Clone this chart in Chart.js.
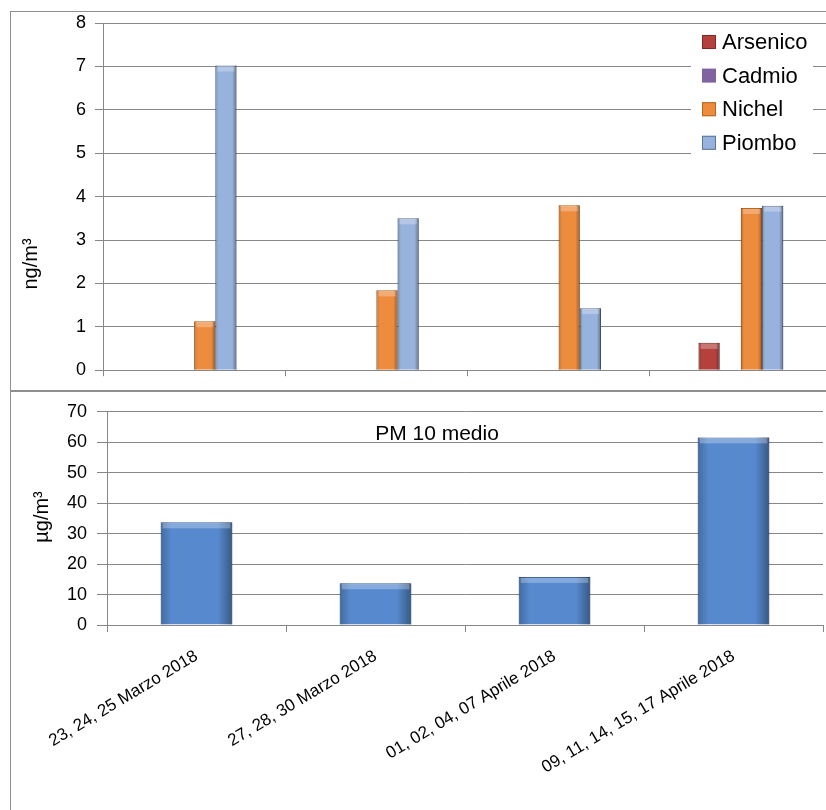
<!DOCTYPE html>
<html><head><meta charset="utf-8">
<script src="https://cdn.jsdelivr.net/npm/chart.js@4.4.1/dist/chart.umd.min.js"></script>
<style>
html,body{margin:0;padding:0;background:#fff;}
body{width:826px;height:810px;overflow:hidden;position:relative;}
#c1{position:absolute;left:0;top:0;}
#c2{position:absolute;left:0;top:391px;}
.frame{position:absolute;border:1px solid #8f8f8f;box-sizing:border-box;pointer-events:none;}
</style></head><body>
<canvas id="c1" width="840" height="390"></canvas>
<canvas id="c2" width="840" height="419"></canvas>
<div class="frame" style="left:10px;top:11px;width:830px;height:380px;"></div>
<div class="frame" style="left:10px;top:391px;width:830px;height:430px;"></div>
<script>
// ---- data ----
const categories = ["23, 24, 25 Marzo 2018", "27, 28, 30 Marzo 2018", "01, 02, 04, 07 Aprile 2018", "09, 11, 14, 15, 17 Aprile 2018"];
const seriesNames = ["Arsenico", "Cadmio", "Nichel", "Piombo"];
const arsenico = [0, 0, 0, 0.63];
const cadmio = [0, 0, 0, 0];
const nichel = [1.13, 1.84, 3.8, 3.74];
const piombo = [7.02, 3.5, 1.43, 3.79];
const pm10Label = "PM 10 medio";
const pm10 = [33.7, 13.7, 15.8, 61.6];
const metalsAxisTitle = "ng/m³";
const pmAxisTitle = "µg/m³";

Chart.defaults.font.family = "'Liberation Sans', Arial, sans-serif";
Chart.defaults.color = '#000';
const GRID = '#878787';

const freeText = {
  id: 'freeText',
  afterDraw(chart, args, opts) {
    const ctx = chart.ctx;
    (opts.items || []).forEach(it => {
      ctx.save();
      ctx.translate(it.x, it.y);
      ctx.rotate(it.rot || 0);
      ctx.font = it.font;
      ctx.textAlign = 'center';
      ctx.textBaseline = it.baseline || 'middle';
      ctx.fillStyle = '#000';
      ctx.fillText(it.text, 0, 0);
      ctx.restore();
    });
  }
};

// soft bevel shading on top of each bar drawn by the library
const bevel = {
  id: 'bevel',
  afterDatasetsDraw(chart) {
    const ctx = chart.ctx;
    chart.data.datasets.forEach((ds, di) => {
      const meta = chart.getDatasetMeta(di);
      meta.data.forEach(el => {
        const { x, y, base, width } = el.getProps(['x', 'y', 'base', 'width'], true);
        const h = base - y;
        if (!(h > 1)) return;
        const l = x - width / 2;
        ctx.save();
        const g = ctx.createLinearGradient(l, 0, l + width, 0);
        g.addColorStop(0, 'rgba(0,0,0,0.22)');
        g.addColorStop(0.15, 'rgba(0,0,0,0)');
        g.addColorStop(0.8, 'rgba(0,0,0,0)');
        g.addColorStop(1, 'rgba(0,0,0,0.35)');
        ctx.fillStyle = g;
        ctx.fillRect(l, y, width, h);
        ctx.fillStyle = 'rgba(255,255,255,0.28)';
        ctx.fillRect(l + 2, y + 1, width - 4, Math.min(5, h - 1));
        ctx.restore();
      });
    });
  }
};

const boxLegend = {
  id: 'boxLegend',
  afterDraw(chart, args, o) {
    if (!o.show) return;
    const ctx = chart.ctx;
    ctx.save();
    ctx.fillStyle = '#fff';
    ctx.fillRect(o.x, o.y, o.w, o.h);
    ctx.font = o.font;
    ctx.textAlign = 'left';
    ctx.textBaseline = 'middle';
    chart.data.datasets.forEach((ds, i) => {
      const cy = o.firstY + i * o.gap;
      ctx.fillStyle = ds.backgroundColor;
      ctx.fillRect(o.mx, cy - 7, 14, 14);
      if (ds.legendEdge) {
        ctx.strokeStyle = ds.legendEdge;
        ctx.lineWidth = 1;
        ctx.strokeRect(o.mx + 0.5, cy - 6.5, 13, 13);
      }
      ctx.fillStyle = '#000';
      ctx.fillText(ds.label, o.tx, cy + 1);
    });
    ctx.restore();
  }
};

new Chart(document.getElementById('c1'), {
  type: 'bar',
  data: {
    labels: categories,
    datasets: [
      { label: seriesNames[0], data: arsenico, backgroundColor: '#b5413d', borderColor: '#7f2a27', legendEdge: '#7f2a27', borderWidth: 1 },
      { label: seriesNames[1], data: cadmio, backgroundColor: '#8064a2', borderColor: '#5c4776', borderWidth: 0 },
      { label: seriesNames[2], data: nichel, backgroundColor: '#ee8c3e', borderColor: '#b9661f', legendEdge: '#b9661f', borderWidth: 1 },
      { label: seriesNames[3], data: piombo, backgroundColor: '#97b2dd', borderColor: '#5f7397', legendEdge: '#5f7397', borderWidth: 1 }
    ]
  },
  options: {
    responsive: false, animation: false, devicePixelRatio: 1,
    layout: { padding: { top: 23, right: 8, left: 0, bottom: 0 } },
    datasets: { bar: { categoryPercentage: 0.465, barPercentage: 1 } },
    scales: {
      x: {
        grid: { display: true, drawOnChartArea: false, drawTicks: true, tickLength: 6, color: GRID, offset: true },
        border: { color: GRID },
        ticks: { display: false },
        afterFit(s) { s.height = 15; }
      },
      y: {
        min: 0, max: 8,
        ticks: { stepSize: 1, font: { size: 18 }, padding: 9, color: '#000' },
        grid: { color: GRID, tickLength: 8 },
        border: { color: GRID },
        afterFit(s) { s.width = 103; }
      }
    },
    plugins: {
      legend: { display: false },
      tooltip: { enabled: false },
      boxLegend: { show: true, x: 691, y: 25, w: 122, h: 138, mx: 702, tx: 722, firstY: 42, gap: 33.6, font: "22px 'Liberation Sans', Arial, sans-serif" },
      freeText: { items: [ { text: metalsAxisTitle, x: 31, y: 264, rot: -Math.PI / 2, font: "20px 'Liberation Sans', Arial, sans-serif" } ] }
    }
  },
  plugins: [bevel, boxLegend, freeText]
});

new Chart(document.getElementById('c2'), {
  type: 'bar',
  data: {
    labels: categories,
    datasets: [
      { label: pm10Label, data: pm10, backgroundColor: '#5689cd', borderColor: '#3c64a0', borderWidth: 1 }
    ]
  },
  options: {
    responsive: false, animation: false, devicePixelRatio: 1,
    layout: { padding: { top: 17, right: 17, left: 0, bottom: 0 } },
    datasets: { bar: { categoryPercentage: 0.4, barPercentage: 1 } },
    scales: {
      x: {
        grid: { display: true, drawOnChartArea: false, drawTicks: true, tickLength: 7, color: GRID, offset: true },
        border: { color: GRID },
        ticks: { autoSkip: false, minRotation: 31, maxRotation: 31, font: { size: 17 }, padding: 14, color: '#000' },
        afterFit(s) { s.height = 185; }
      },
      y: {
        min: 0, max: 70,
        ticks: { stepSize: 10, font: { size: 18 }, padding: 10, color: '#000' },
        grid: { color: GRID, tickLength: 10 },
        border: { color: GRID },
        afterFit(s) { s.width = 107; }
      }
    },
    plugins: {
      legend: { display: false },
      tooltip: { enabled: false },
      freeText: { items: [
        { text: pmAxisTitle, x: 42, y: 126, rot: -Math.PI / 2, font: "20px 'Liberation Sans', Arial, sans-serif" },
        { text: pm10Label, x: 437, y: 49, baseline: 'alphabetic', font: "21px 'Liberation Sans', Arial, sans-serif" }
      ] }
    }
  },
  plugins: [bevel, freeText]
});
</script>
</body></html>
